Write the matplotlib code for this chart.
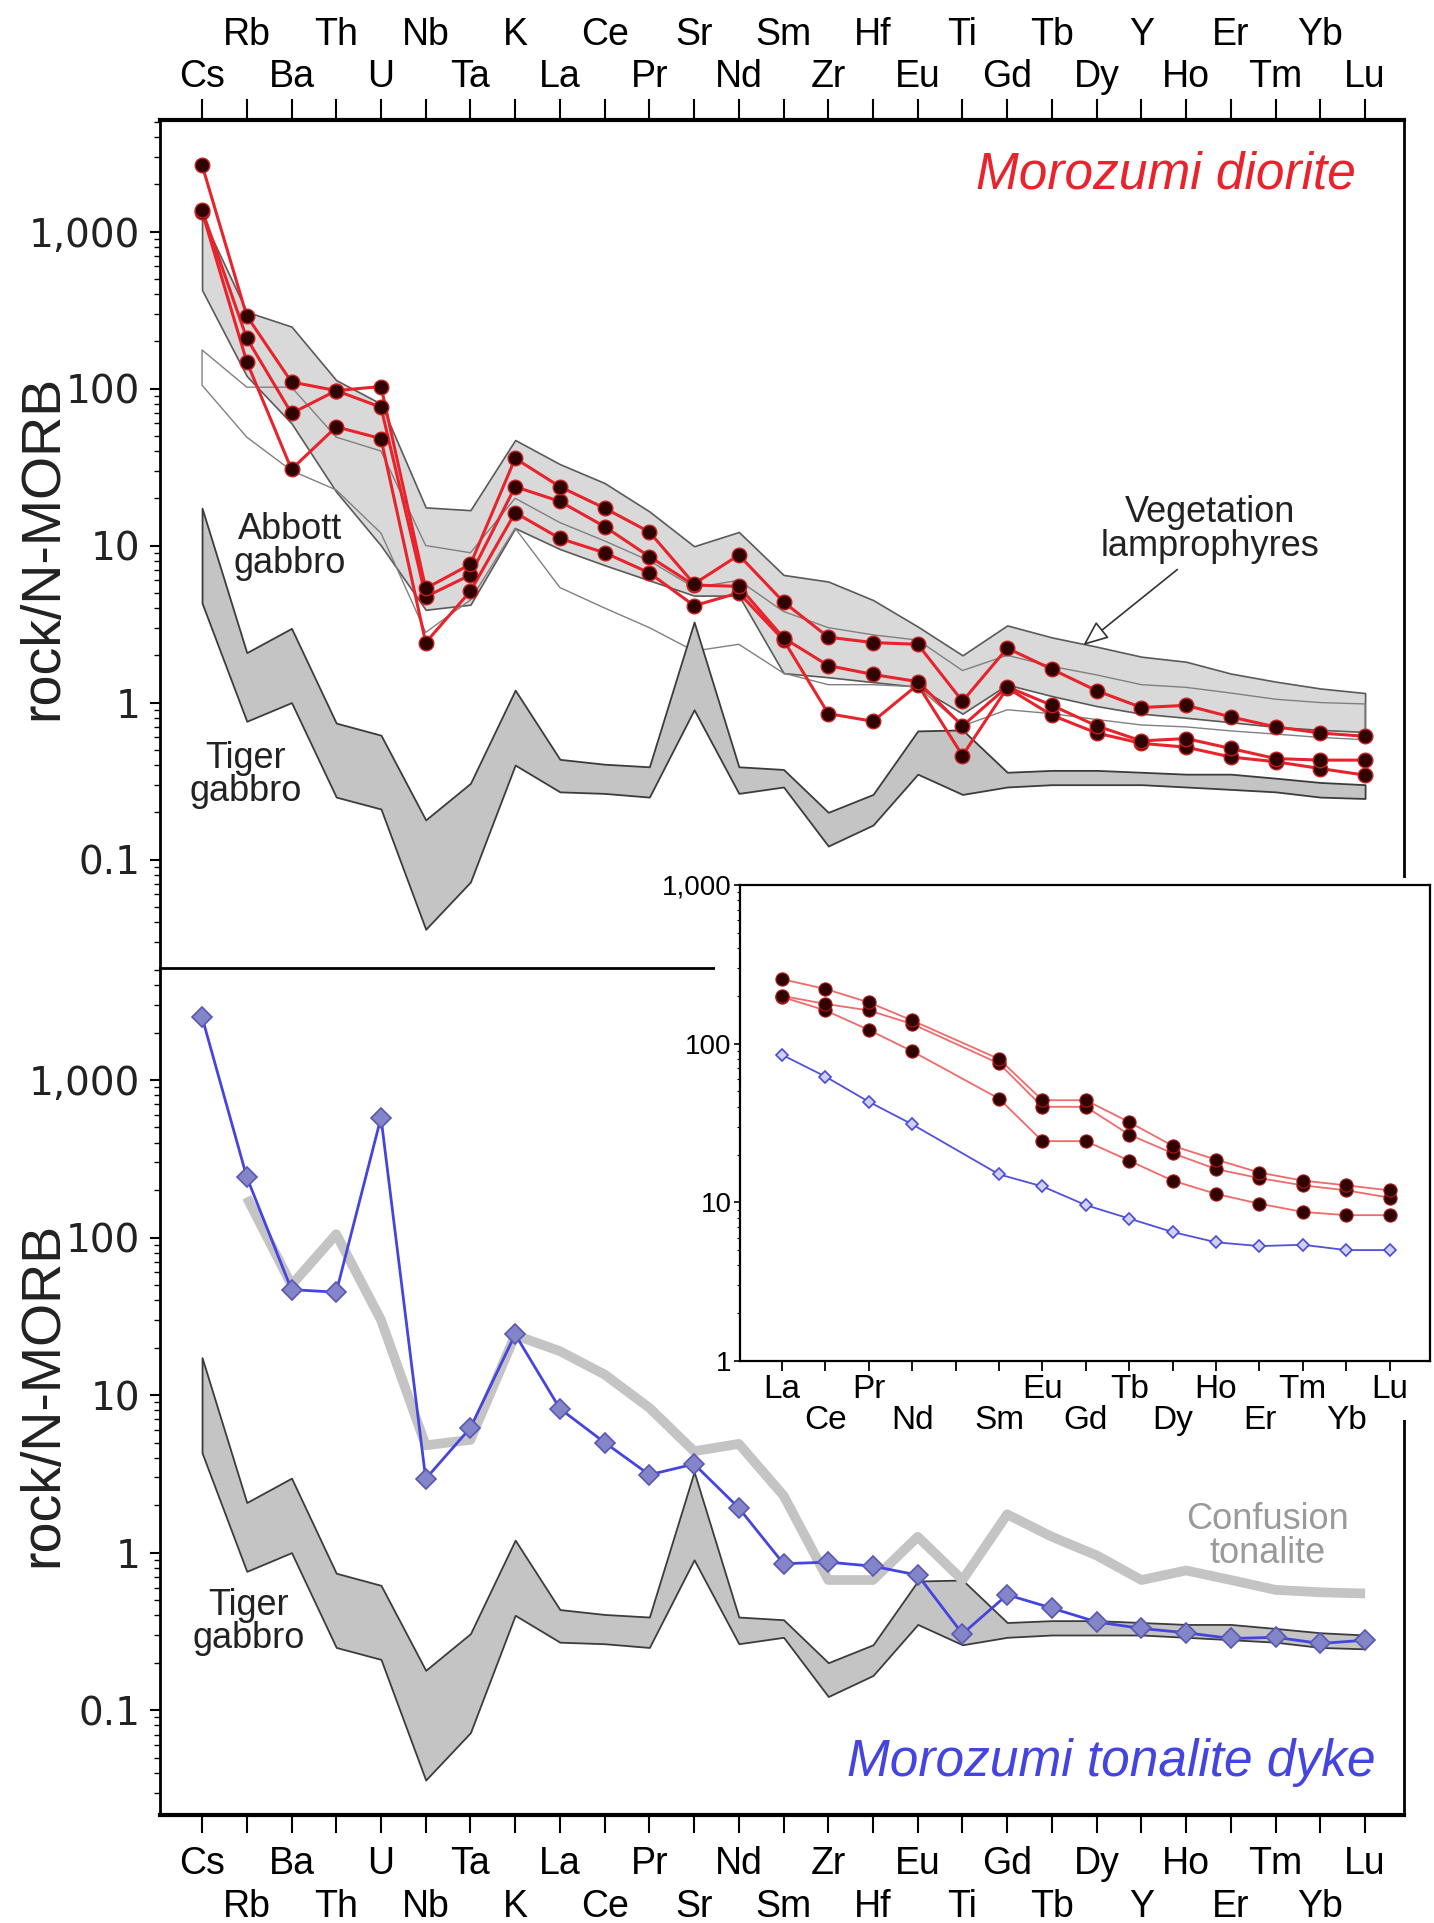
import numpy as np
import matplotlib
matplotlib.use('Agg')
import matplotlib.pyplot as plt
from matplotlib.patches import Rectangle
from matplotlib.ticker import NullFormatter

plt.rcParams['font.family'] = ['Liberation Sans', 'DejaVu Sans']

# ---------------- data ----------------
elements = ['Cs', 'Rb', 'Ba', 'Th', 'U', 'Nb', 'Ta', 'K', 'La', 'Ce', 'Pr', 'Sr', 'Nd', 'Sm',
            'Zr', 'Hf', 'Eu', 'Ti', 'Gd', 'Tb', 'Dy', 'Y', 'Ho', 'Er', 'Tm', 'Yb', 'Lu']

diorite_a = [2655, 290, 110, 97, 103, 5.33, 7.6, 35.9, 23.7, 17.3, 12.2, 5.7, 8.7, 4.37,
             2.61, 2.41, 2.35, 1.02, 2.22, 1.63, 1.19, 0.93, 0.96, 0.81, 0.70, 0.64, 0.61]
diorite_b = [1370, 209, 69.5, 97, 76, 4.72, 6.5, 23.7, 19.1, 13.2, 8.5, 5.6, 5.5, 2.58,
             1.72, 1.51, 1.36, 0.71, 1.26, 0.96, 0.71, 0.57, 0.59, 0.51, 0.44, 0.43, 0.43]
diorite_c = [1340, 148, 30.6, 57, 48, 2.41, 5.13, 16.2, 11.1, 9.0, 6.7, 4.14, 5.0, 2.5,
             0.85, 0.76, 1.3, 0.46, 1.24, 0.83, 0.64, 0.55, 0.52, 0.45, 0.42, 0.38, 0.345]

lamp_upper = [1240, 308, 248, 113, 80, 17.5, 16.8, 47, 33, 25, 16.5, 9.9, 12.2, 6.5,
              5.9, 4.5, 3.05, 2.0, 3.1, 2.6, 2.27, 1.96, 1.82, 1.53, 1.36, 1.23, 1.15]
lamp_lower = [424, 120, 60, 22, 10, 3.9, 4.2, 12.9, 9.5, 7.5, 6.0, 4.8, 4.8, 1.54,
              1.45, 1.35, 1.26, 0.85, 1.3, 1.1, 0.95, 0.85, 0.8, 0.75, 0.7, 0.67, 0.65]

abbott_upper = [176, 102, 102, 49, 40, 10, 9, 20, 14, 10.7, 8, 5.4, 6, 3.8,
                3.0, 2.7, 2.5, 1.6, 2.0, 1.7, 1.5, 1.3, 1.25, 1.15, 1.05, 1.0, 0.98]
abbott_lower = [105, 49, 30, 22.6, 12, 2.8, 4.5, 12.9, 5.4, 4.0, 3.0, 2.13, 2.35, 1.54,
                1.3, 1.3, 1.26, 0.71, 0.9, 0.85, 0.78, 0.72, 0.7, 0.66, 0.63, 0.6, 0.58]

tiger_upper = [17.3, 2.08, 2.97, 0.74, 0.62, 0.179, 0.306, 1.20, 0.435, 0.405, 0.39, 3.26, 0.39, 0.375,
               0.20, 0.26, 0.66, 0.67, 0.36, 0.37, 0.37, 0.36, 0.35, 0.35, 0.33, 0.31, 0.30]
tiger_lower = [4.3, 0.76, 1.0, 0.25, 0.21, 0.036, 0.072, 0.40, 0.27, 0.264, 0.25, 0.90, 0.264, 0.29,
               0.122, 0.166, 0.35, 0.26, 0.29, 0.30, 0.30, 0.30, 0.29, 0.28, 0.27, 0.25, 0.245]

tonalite = [2506, 242, 46.7, 45, 578, 2.94, 6.2, 24.3, 8.2, 5.0, 3.12, 3.65, 1.92, 0.85,
            0.87, 0.82, 0.72, 0.305, 0.54, 0.444, 0.363, 0.33, 0.31, 0.285, 0.29, 0.265, 0.278]
confusion = [np.nan, 180, 50, 105, 30, 4.8, 5.2, 24, 19, 13.5, 8.3, 4.4, 4.9, 2.3,
             0.67, 0.67, 1.26, 0.67, 1.75, 1.26, 0.96, 0.67, 0.77, 0.67, 0.58, 0.56, 0.55]

ree = ['La', 'Ce', 'Pr', 'Nd', 'Pm', 'Sm', 'Eu', 'Gd', 'Tb', 'Dy', 'Ho', 'Er', 'Tm', 'Yb', 'Lu']
inset_a = [255, 221, 182, 140, np.nan, 80, 44, 44, 32, 22.7, 18.6, 15.4, 13.7, 12.8, 11.9]
inset_b = [200, 178, 162, 133, np.nan, 75, 40, 40, 26.7, 20.4, 16.2, 14.2, 12.8, 11.9, 10.7]
inset_c = [197, 162, 122, 89.5, np.nan, 45, 24.3, 24.3, 18.3, 13.7, 11.3, 9.8, 8.7, 8.3, 8.3]
inset_tonalite = [85, 62, 43, 31, np.nan, 15, 12.6, 9.6, 7.9, 6.5, 5.6, 5.3, 5.4, 5.0, 5.0]

# ---------------- layout ----------------
W, H = 1434, 1923
fig = plt.figure(figsize=(W / 100, H / 100), dpi=100)


def fr(x0, y0, x1, y1):
    return [x0 / W, 1 - y1 / H, (x1 - x0) / W, (y1 - y0) / H]


ax1 = fig.add_axes(fr(160, 120, 1404, 968))
ax2 = fig.add_axes(fr(160, 968, 1404, 1815))
x = np.arange(len(elements))

RED = '#e8232b'
DOT = '#300303'
BLUE = '#4444e0'


def style_main(ax, top, ylim):
    ax.set_yscale('log')
    ax.set_xlim(-0.94, 26.87)
    ax.set_ylim(*ylim)
    ax.set_yticks([0.1, 1, 10, 100, 1000], ['0.1', '1', '10', '100', '1,000'])
    ax.yaxis.set_minor_formatter(NullFormatter())
    ax.tick_params(axis='y', which='major', direction='out', length=7, width=1.5,
                   labelsize=28, pad=7)
    ax.tick_params(axis='y', which='minor', direction='out', length=4, width=1.0)
    for lbl in ax.get_yticklabels():
        lbl.set_fontfamily('DejaVu Sans')
        lbl.set_color('#222222')
    ax.set_xticks(x[0::2], elements[0::2])
    ax.set_xticks(x[1::2], elements[1::2], minor=True)
    if top:
        ax.tick_params(axis='x', which='both', bottom=False, labelbottom=False, top=True,
                       labeltop=True, direction='out', length=15, width=1.5, labelsize=27)
        ax.tick_params(axis='x', which='major', pad=3)
        ax.tick_params(axis='x', which='minor', pad=33)
        ax.spines['bottom'].set_visible(False)
        ax.spines['top'].set_linewidth(3)
    else:
        ax.tick_params(axis='x', which='both', top=False, labeltop=False, bottom=True,
                       labelbottom=True, direction='out', length=13, width=1.5, labelsize=27)
        ax.tick_params(axis='x', which='major', pad=9)
        ax.tick_params(axis='x', which='minor', pad=40)
        ax.spines['bottom'].set_linewidth(3)
        ax.spines['top'].set_linewidth(2)
    ax.spines['left'].set_linewidth(2)
    ax.spines['right'].set_linewidth(2)


style_main(ax1, True, (0.0204, 5130))
style_main(ax2, False, (0.0216, 5140))

# ---- top panel ----
ax1.fill_between(x, lamp_lower, lamp_upper, facecolor='#d9d9d9', edgecolor='#5a5a5a',
                 lw=1.2, zorder=1)
ax1.fill_between(x, abbott_lower, abbott_upper, facecolor='none', edgecolor='#808080',
                 lw=1.0, zorder=1.5)
ax1.fill_between(x, tiger_lower, tiger_upper, facecolor='#c4c4c4', edgecolor='#3c3c3c',
                 lw=1.3, zorder=1.6)
for s in (diorite_c, diorite_b, diorite_a):
    ax1.plot(x, s, '-', color=RED, lw=2.2, zorder=3)
for s in (diorite_c, diorite_b, diorite_a):
    ax1.plot(x, s, 'o', ms=10.5, mfc=DOT, mec='#c81e1e', mew=1.0, zorder=4)

ax1.text(0.9614, 0.935, 'Morozumi diorite', transform=ax1.transAxes, ha='right',
         va='center', fontsize=37, style='italic', color=RED)
ax1.text(1.97, 9.9, 'Abbott\ngabbro', ha='center', va='center', fontsize=26,
         linespacing=0.95, color='#222222', zorder=5)
ax1.text(0.98, 0.345, 'Tiger\ngabbro', ha='center', va='center', fontsize=26,
         linespacing=0.95, color='#222222', zorder=5)
ax1.annotate('Vegetation\nlamprophyres', xy=(19.7, 2.32), xytext=(22.54, 12.6),
             ha='center', va='center', fontsize=26, linespacing=0.95, color='#222222',
             arrowprops=dict(arrowstyle='-|>,head_length=0.6,head_width=0.25',
                             fc='white', ec='#333333', lw=1.2, shrinkA=3, shrinkB=0,
                             relpos=(0.38, 0.0)), zorder=5)

# ---- bottom panel ----
ax2.fill_between(x, tiger_lower, tiger_upper, facecolor='#c4c4c4', edgecolor='#3c3c3c',
                 lw=1.3, zorder=1)
ax2.plot(x, confusion, '-', color='#c4c4c4', lw=7, solid_capstyle='butt', zorder=2)
ax2.plot(x, tonalite, '-D', color=BLUE, lw=2.0, ms=10, mfc='#8484c8', mec='#5858b0',
         mew=1.2, zorder=4)
ax2.text(0.9775, 0.0614, 'Morozumi tonalite dyke', transform=ax2.transAxes, ha='right',
         va='center', fontsize=37, style='italic', color=BLUE)
ax2.text(1.05, 0.362, 'Tiger\ngabbro', ha='center', va='center', fontsize=26,
         linespacing=0.95, color='#222222', zorder=5)
ax2.text(23.81, 1.27, 'Confusion\ntonalite', ha='center', va='center', fontsize=26,
         linespacing=0.95, color='#9a9a9a', zorder=5)

for yc in (547, 1394):
    fig.text(43 / W, 1 - yc / H, 'rock/N-MORB', rotation=90, fontsize=40,
             ha='center', va='center', color='#222222')

# ---- inset ----
fig.add_artist(Rectangle((715 / W, 1 - 1420 / H), (W - 715) / W, (1420 - 878) / H,
                         transform=fig.transFigure, facecolor='white', edgecolor='none',
                         zorder=5))
ax3 = fig.add_axes(fr(740, 885, 1430, 1361))
ax3.set_zorder(10)
xi = np.arange(len(ree))
ax3.set_yscale('log')
ax3.set_xlim(-0.97, 14.93)
ax3.set_ylim(1, 1000)
for s in (inset_c, inset_b, inset_a):
    v = np.array(s, dtype=float)
    m = ~np.isnan(v)
    ax3.plot(xi[m], v[m], '-', color='#f06a6a', lw=1.3, zorder=3)
    ax3.plot(xi[m], v[m], 'o', ms=9.5, mfc=DOT, mec='#b01818', mew=0.8, zorder=4)
v = np.array(inset_tonalite, dtype=float)
m = ~np.isnan(v)
ax3.plot(xi[m], v[m], '-D', color='#5050e0', lw=1.3, ms=6, mfc='#d0d0f4', mec='#4a4ad8',
         mew=1.2, zorder=4)

upper_idx = [0, 2, 4, 6, 8, 10, 12, 14]
lower_idx = [1, 3, 5, 7, 9, 11, 13]
ax3.set_xticks(upper_idx, [ree[i] if ree[i] != 'Pm' else '' for i in upper_idx])
ax3.set_xticks(lower_idx, [ree[i] for i in lower_idx], minor=True)
ax3.tick_params(axis='x', which='both', direction='out', length=7, width=1.3, labelsize=24)
ax3.tick_params(axis='x', which='major', pad=2)
ax3.tick_params(axis='x', which='minor', pad=25)
ax3.set_yticks([1, 10, 100, 1000], ['1', '10', '100', '1,000'])
ax3.yaxis.set_minor_formatter(NullFormatter())
ax3.tick_params(axis='y', which='major', direction='out', length=4, width=1.2,
                labelsize=20, pad=2)
ax3.tick_params(axis='y', which='minor', direction='out', length=2, width=0.8)
for sp in ax3.spines.values():
    sp.set_linewidth(1.6)

fig.savefig('out.png', dpi=100, facecolor='white')
